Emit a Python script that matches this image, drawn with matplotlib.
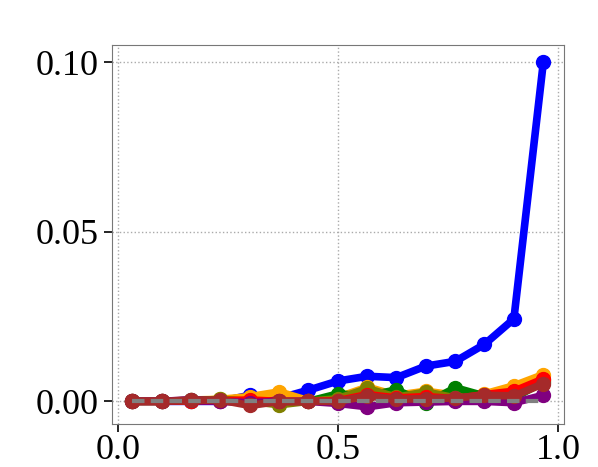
import numpy as np
import matplotlib
matplotlib.use("Agg")
import matplotlib.pyplot as plt

plt.rcParams["font.family"] = ["Liberation Serif", "DejaVu Serif"]
plt.rcParams["font.size"] = 26

# bin centres
x = [0.033, 0.100, 0.167, 0.233, 0.300, 0.367, 0.433, 0.500,
     0.567, 0.633, 0.700, 0.767, 0.833, 0.900, 0.967]

blue = [0.0, 0.0, 0.0, 0.0, 0.0018, 0.0009, 0.0033, 0.0060,
        0.0074, 0.0070, 0.0104, 0.0118, 0.0168, 0.0243, 0.1000]
orange = [0.0, 0.0, 0.0004, 0.0006, 0.0014, 0.0028, 0.0002, 0.0012,
          0.0042, 0.0018, 0.0030, 0.0018, 0.0022, 0.0046, 0.0079]
green = [0.0, 0.0, 0.0003, 0.0004, 0.0, -0.0004, 0.0, 0.0022,
         0.0016, 0.0034, -0.0006, 0.0040, 0.0016, 0.0010, 0.0058]
olive = [0.0, 0.0, 0.0002, 0.0006, 0.0, -0.0010, 0.0, 0.0008,
         0.0038, 0.0012, 0.0028, 0.0010, 0.0010, 0.0018, 0.0062]
red = [0.0, 0.0, 0.0002, 0.0002, 0.0004, 0.0, 0.0, 0.0002,
       0.0020, 0.0010, 0.0014, 0.0008, 0.0020, 0.0030, 0.0066]
purple = [0.0, 0.0, 0.0005, 0.0, -0.0004, 0.0, 0.0, -0.0006,
          -0.0016, -0.0004, -0.0002, 0.0, 0.0, -0.0004, 0.0018]
brown = [0.0, 0.0, 0.0003, 0.0004, -0.0012, 0.0, 0.0, 0.0,
         0.0016, 0.0006, 0.0008, 0.0010, 0.0018, 0.0016, 0.0052]
zero = [0.0] * len(x)

fig = plt.figure(figsize=(5.98, 4.67), dpi=100)
ax = fig.add_axes([0.187, 0.092, 0.756, 0.812])

series = [(blue, "blue"), (orange, "orange"), (green, "green"), (olive, "olive"),
          (red, "red"), (purple, "purple"), (brown, "brown")]
for ys, c in series:
    ax.plot(x, ys, "-o", color=c, lw=5.5, ms=10)
ax.plot(x, zero, "--", color="gray", lw=3, dashes=(3, 1.5))

ax.set_xticks([0.0, 0.5, 1.0])
ax.set_xticklabels(["0.0", "0.5", "1.0"])
ax.set_yticks([0.0, 0.05, 0.10])
ax.set_yticklabels(["0.00", "0.05", "0.10"])
ax.grid(True, ls=":", color="#aaaaaa", lw=1)
for s in ax.spines.values():
    s.set_color("#777777")
ax.tick_params(length=6, width=1.2)
ax.tick_params(axis="x", pad=1)

fig.savefig("out.png", dpi=100)
